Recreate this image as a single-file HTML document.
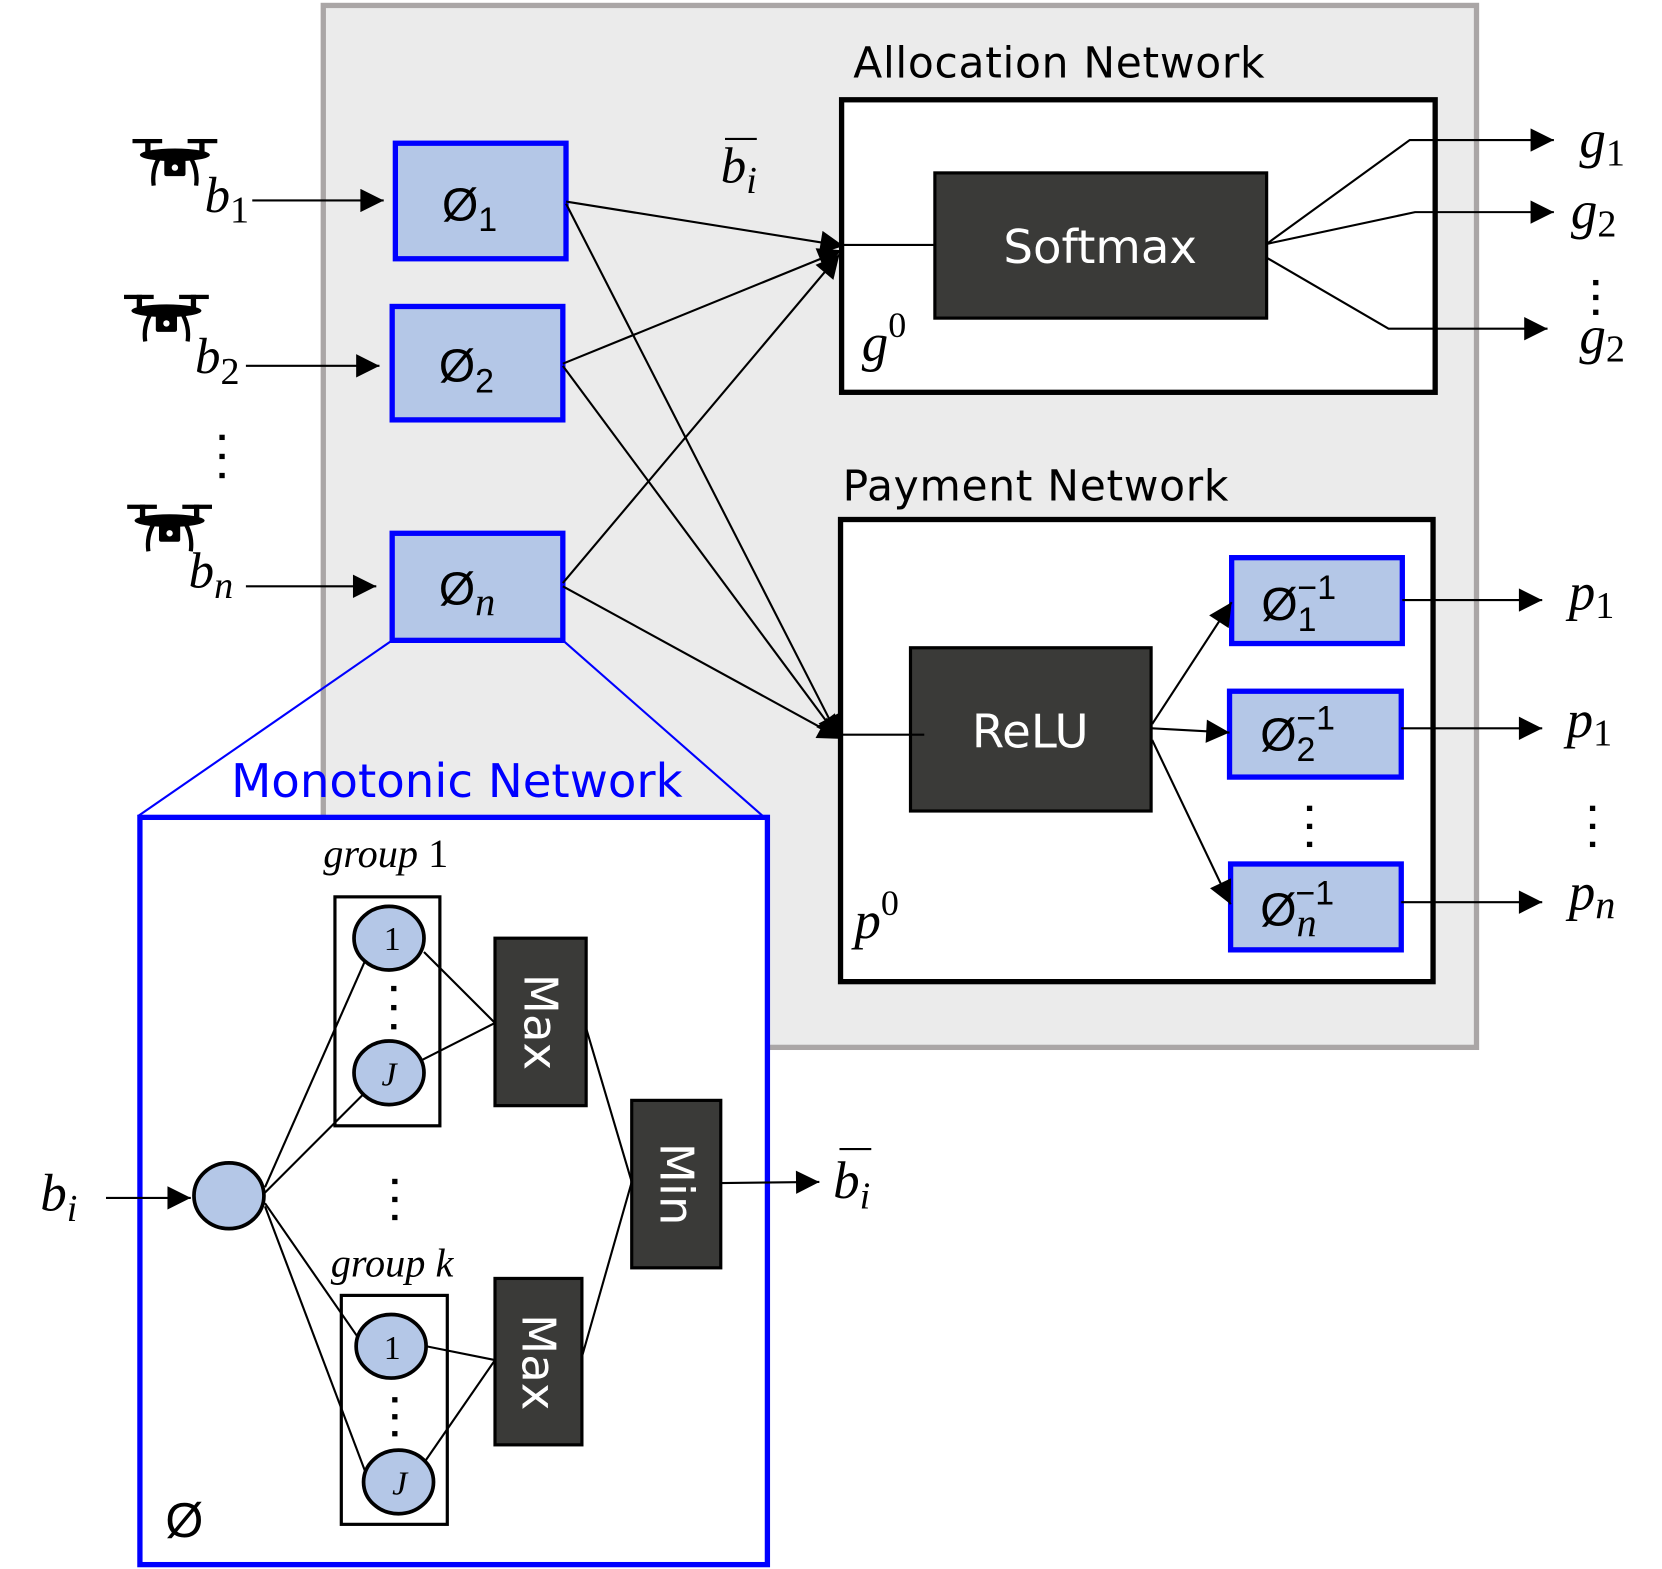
<!DOCTYPE html>
<html><head><meta charset="utf-8"><style>html,body{margin:0;padding:0;background:#fff;overflow:hidden}svg{display:block}</style></head>
<body>
<svg width="1662" height="1569" viewBox="0 0 1568 1480" xmlns="http://www.w3.org/2000/svg" font-family="Liberation Sans, DejaVu Sans, sans-serif">
<defs>
<marker id="A" viewBox="0 0 10 10" refX="10" refY="5" markerWidth="26" markerHeight="22" orient="auto" markerUnits="userSpaceOnUse"><path d="M0,0 L10,5 L0,10 z" fill="#000"/></marker>
<g id="drone">
<rect x="-40" y="-24" width="28" height="4" fill="#000"/><rect x="12" y="-24" width="28" height="4" fill="#000"/>
<rect x="-28" y="-24" width="5" height="12" fill="#000"/><rect x="23" y="-24" width="5" height="12" fill="#000"/>
<ellipse cx="0" cy="-9" rx="33" ry="6" fill="#000"/>
<path d="M-15,-6 Q-22,6 -20,20 M15,-6 Q22,6 20,20" stroke="#000" stroke-width="4" fill="none"/>
<rect x="-10" y="-5" width="20" height="16" rx="2" fill="#000"/><circle cx="0" cy="3" r="3" fill="#fff"/>
</g>
</defs>
<rect x="305" y="5" width="1088" height="983" fill="#ebebeb" stroke="#aaa6a6" stroke-width="5"/>

<use href="#drone" x="165" y="155"/>
<use href="#drone" x="157" y="302"/>
<use href="#drone" x="160" y="500"/>

<g font-family="Liberation Serif, serif" font-style="italic" font-size="48">
<text x="193" y="200">b<tspan font-size="36" font-style="normal" dy="10">1</tspan></text>
<text x="184" y="352">b<tspan font-size="36" font-style="normal" dy="10">2</tspan></text>
<text x="178" y="554">b<tspan font-size="36" dy="10">n</tspan></text>
</g>
<g fill="#000"><rect x="207" y="410" width="5" height="5"/><rect x="207" y="428" width="5" height="5"/><rect x="207" y="446" width="5" height="5"/></g>
<g stroke="#000" stroke-width="2">
<line x1="238" y1="189" x2="362" y2="189" marker-end="url(#A)"/>
<line x1="232" y1="345" x2="358" y2="345" marker-end="url(#A)"/>
<line x1="232" y1="553" x2="355" y2="553" marker-end="url(#A)"/>
</g>

<g fill="#b4c7e7" stroke="#0000ff" stroke-width="5">
<rect x="373" y="135" width="161" height="109"/>
<rect x="370" y="289" width="161" height="107"/>
<rect x="370" y="503" width="161" height="101"/>
</g>
<g font-family="Liberation Sans, sans-serif" font-size="44">
<text x="417" y="208">Ø<tspan font-family="Liberation Sans, sans-serif" font-size="32" dy="10">1</tspan></text>
<text x="414" y="360">Ø<tspan font-family="Liberation Sans, sans-serif" font-size="32" dy="10">2</tspan></text>
<text x="414" y="570">Ø<tspan font-family="Liberation Serif, serif" font-style="italic" font-size="38" dy="10">n</tspan></text>
</g>

<text x="805" y="73" font-size="40" font-family="DejaVu Sans, sans-serif" textLength="388">Allocation Network</text>
<rect x="794" y="94" width="560" height="276" fill="#fff" stroke="#000" stroke-width="5"/>
<rect x="882" y="163" width="313" height="137" fill="#3a3a38" stroke="#000" stroke-width="3"/>
<text x="1038" y="248" font-size="44" fill="#fff" text-anchor="middle" font-family="DejaVu Sans, sans-serif">Softmax</text>
<text x="813" y="340" font-family="Liberation Serif, serif" font-style="italic" font-size="50">g<tspan font-style="normal" font-size="34" dy="-22">0</tspan></text>
<text x="680" y="172" font-family="Liberation Serif, serif" font-style="italic" font-size="48">b<tspan font-size="36" dy="10">i</tspan></text>
<line x1="684" y1="131" x2="714" y2="131" stroke="#000" stroke-width="2"/>

<g stroke="#000" stroke-width="2" fill="none">
<line x1="534" y1="190" x2="796" y2="232" marker-end="url(#A)"/>
<line x1="531" y1="343" x2="794" y2="236" marker-end="url(#A)"/>
<line x1="531" y1="550" x2="792" y2="240" marker-end="url(#A)"/>
<line x1="534" y1="192" x2="792" y2="697" marker-end="url(#A)"/>
<line x1="531" y1="345" x2="792" y2="697" marker-end="url(#A)"/>
<line x1="531" y1="553" x2="794" y2="697" marker-end="url(#A)"/>
<line x1="796" y1="231" x2="882" y2="231"/>
<polyline points="1195,230 1330,132 1466,132" marker-end="url(#A)"/>
<polyline points="1195,230 1335,200 1466,200" marker-end="url(#A)"/>
<polyline points="1195,243 1310,310 1460,310" marker-end="url(#A)"/>
</g>
<g font-family="Liberation Serif, serif" font-style="italic" font-size="50">
<text x="1490" y="148">g<tspan font-style="normal" font-size="36" dy="8">1</tspan></text>
<text x="1482" y="215">g<tspan font-style="normal" font-size="36" dy="8">2</tspan></text>
<text x="1490" y="333">g<tspan font-style="normal" font-size="36" dy="8">2</tspan></text>
</g>
<g fill="#000"><rect x="1503" y="264" width="5" height="5"/><rect x="1503" y="278" width="5" height="5"/><rect x="1503" y="292" width="5" height="5"/></g>

<text x="795" y="472" font-size="40" font-family="DejaVu Sans, sans-serif" textLength="364">Payment Network</text>
<rect x="793" y="490" width="559" height="436" fill="#fff" stroke="#000" stroke-width="5"/>
<rect x="859" y="611" width="227" height="154" fill="#3a3a38" stroke="#000" stroke-width="3"/>
<text x="972" y="705" font-size="44" fill="#fff" text-anchor="middle" font-family="DejaVu Sans, sans-serif">ReLU</text>
<text x="806" y="885" font-family="Liberation Serif, serif" font-style="italic" font-size="50">p<tspan font-style="normal" font-size="34" dy="-22">0</tspan></text>
<g fill="#b4c7e7" stroke="#0000ff" stroke-width="5">
<rect x="1162" y="526" width="161" height="81"/>
<rect x="1160" y="652" width="162" height="81"/>
<rect x="1161" y="815" width="161" height="81"/>
</g>
<g font-family="Liberation Sans, sans-serif" font-size="44">
<text x="1190" y="585">Ø<tspan font-size="32" dy="10">1</tspan><tspan font-size="32" dx="-18" dy="-30">−1</tspan></text>
<text x="1189" y="708">Ø<tspan font-size="32" dy="10">2</tspan><tspan font-size="32" dx="-18" dy="-30">−1</tspan></text>
<text x="1189" y="873">Ø<tspan font-family="Liberation Serif, serif" font-style="italic" font-size="38" dy="10">n</tspan><tspan font-size="32" dx="-20" dy="-30">−1</tspan></text>
</g>
<g fill="#000"><rect x="1233" y="760" width="5" height="5"/><rect x="1233" y="777" width="5" height="5"/><rect x="1233" y="794" width="5" height="5"/>
<rect x="1500" y="760" width="5" height="5"/><rect x="1500" y="777" width="5" height="5"/><rect x="1500" y="794" width="5" height="5"/></g>
<g stroke="#000" stroke-width="2" fill="none">
<line x1="795" y1="693" x2="872" y2="693"/>
<line x1="1087" y1="683" x2="1162" y2="568" marker-end="url(#A)"/>
<line x1="1087" y1="687" x2="1160" y2="691" marker-end="url(#A)"/>
<line x1="1087" y1="698" x2="1161" y2="853" marker-end="url(#A)"/>
<line x1="1323" y1="566" x2="1455" y2="566" marker-end="url(#A)"/>
<line x1="1322" y1="687" x2="1455" y2="687" marker-end="url(#A)"/>
<line x1="1322" y1="851" x2="1455" y2="851" marker-end="url(#A)"/>
</g>
<g font-family="Liberation Serif, serif" font-style="italic" font-size="50">
<text x="1480" y="575">p<tspan font-style="normal" font-size="36" dy="8">1</tspan></text>
<text x="1478" y="695">p<tspan font-style="normal" font-size="36" dy="8">1</tspan></text>
<text x="1480" y="858">p<tspan font-size="38" dy="8">n</tspan></text>
</g>

<line x1="370" y1="604" x2="130" y2="770" stroke="#0000ff" stroke-width="2"/>
<line x1="531" y1="604" x2="720" y2="770" stroke="#0000ff" stroke-width="2"/>
<rect x="132" y="771" width="592" height="705" fill="#fff" stroke="#0000ff" stroke-width="5"/>
<text x="218" y="752" font-size="44" fill="#0000ff" font-family="DejaVu Sans, sans-serif" textLength="426">Monotonic Network</text>

<g font-family="Liberation Serif, serif" font-style="italic" font-size="38">
<text x="305" y="818">group <tspan font-style="normal">1</tspan></text>
<text x="312" y="1204">group k</text>
<text x="38" y="1142" font-size="50">b<tspan font-size="36" dy="10">i</tspan></text>
<text x="786" y="1130" font-size="50">b<tspan font-size="36" dy="10">i</tspan></text>
</g>
<line x1="792" y1="1084" x2="822" y2="1084" stroke="#000" stroke-width="2"/>
<text x="156" y="1450" font-size="46" font-family="Liberation Sans, sans-serif">Ø</text>

<g stroke="#000" stroke-width="2" fill="none">
<line x1="100" y1="1130" x2="180" y2="1130" marker-end="url(#A)"/>
<line x1="680" y1="1116" x2="773" y2="1115" marker-end="url(#A)"/>
<line x1="250" y1="1120" x2="345" y2="905"/>
<line x1="250" y1="1125" x2="345" y2="1030"/>
<line x1="250" y1="1135" x2="338" y2="1262"/>
<line x1="250" y1="1138" x2="346" y2="1392"/>
<line x1="400" y1="898" x2="467" y2="965"/>
<line x1="398" y1="1000" x2="467" y2="965"/>
<line x1="402" y1="1270" x2="467" y2="1283"/>
<line x1="400" y1="1380" x2="467" y2="1283"/>
<line x1="553" y1="970" x2="596" y2="1115"/>
<line x1="549" y1="1280" x2="596" y2="1115"/>
</g>
<rect x="316" y="846" width="99" height="216" fill="none" stroke="#000" stroke-width="3"/>
<rect x="322" y="1222" width="100" height="216" fill="none" stroke="#000" stroke-width="3"/>
<g fill="#b4c7e7" stroke="#000" stroke-width="3.5">
<ellipse cx="216" cy="1128" rx="33" ry="31"/>
<ellipse cx="367" cy="885" rx="33" ry="30"/>
<ellipse cx="367" cy="1012" rx="33" ry="30"/>
<ellipse cx="369" cy="1270" rx="33" ry="30"/>
<ellipse cx="376" cy="1398" rx="33" ry="30"/>
</g>
<g font-family="Liberation Serif, serif" font-size="32" text-anchor="middle">
<text x="370" y="896">1</text><text x="367" y="1024" font-style="italic">J</text>
<text x="370" y="1282">1</text><text x="377" y="1410" font-style="italic">J</text>
</g>
<g fill="#000">
<rect x="369" y="930" width="5" height="5"/><rect x="369" y="948" width="5" height="5"/><rect x="369" y="966" width="5" height="5"/>
<rect x="370" y="1318" width="5" height="5"/><rect x="370" y="1334" width="5" height="5"/><rect x="370" y="1350" width="5" height="5"/>
<rect x="370" y="1112" width="5" height="5"/><rect x="370" y="1129" width="5" height="5"/><rect x="370" y="1146" width="5" height="5"/>
</g>
<g fill="#3a3a38" stroke="#000" stroke-width="3">
<rect x="467" y="885" width="86" height="158"/>
<rect x="467" y="1206" width="82" height="157"/>
<rect x="596" y="1038" width="84" height="158"/>
</g>
<g fill="#fff" font-size="44" font-family="DejaVu Sans, sans-serif" text-anchor="middle">
<text transform="translate(495,964) rotate(90)">Max</text>
<text transform="translate(493,1285) rotate(90)">Max</text>
<text transform="translate(623,1117) rotate(90)">Min</text>
</g>
</svg>
</body></html>
